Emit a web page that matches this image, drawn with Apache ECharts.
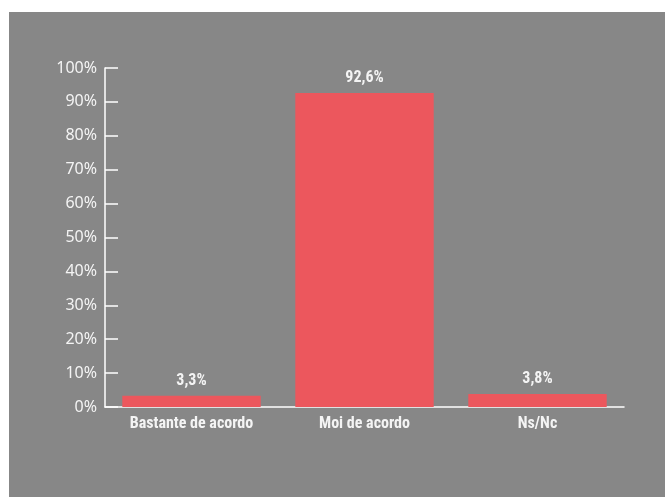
<!DOCTYPE html>
<html><head><meta charset="utf-8">
<script src="https://cdn.jsdelivr.net/npm/echarts@6/dist/echarts.min.js"></script>
<style>html,body{margin:0;padding:0;background:#fff;width:665px;height:497px;overflow:hidden}
#c{position:absolute;left:9px;top:12px;width:656px;height:485px;background:#878787}</style>
</head><body><div id="c"></div>
<script>
const categories = ["Bastante de acordo", "Moi de acordo", "Ns/Nc"];
const values = [3.3, 92.6, 3.8];
const yTicks = [0, 10, 20, 30, 40, 50, 60, 70, 80, 90, 100];

const chart = echarts.init(document.getElementById('c'));
const condensed = "'Liberation Sans Narrow', 'Roboto Condensed', 'DejaVu Sans Condensed', sans-serif";
chart.setOption({
  backgroundColor: '#878787',
  animation: false,
  grid: {left: 96, right: 41, top: 56, bottom: 90},
  xAxis: {
    type: 'category', data: categories,
    axisLine: {lineStyle: {color: '#ffffff', width: 1.5}},
    axisTick: {inside: true, length: 8, lineStyle: {color: '#ffffff', width: 1.5}},
    axisLabel: {color: '#f4f4f4', fontFamily: condensed, fontWeight: 'bold', fontSize: 16, margin: 9}
  },
  yAxis: {
    type: 'value', min: yTicks[0], max: yTicks[yTicks.length-1], interval: 10,
    axisLine: {show: true, lineStyle: {color: '#ffffff', width: 1.5}},
    axisTick: {show: true, inside: true, length: 13, lineStyle: {color: '#ffffff', width: 1.5}},
    splitLine: {show: false},
    axisLabel: {color: '#f4f4f4', fontFamily: "'Noto Sans', 'Open Sans', sans-serif", fontSize: 16, margin: 8, formatter: v => v + '%'}
  },
  series: [{
    type: 'bar', data: values, barCategoryGap: '20%',
    itemStyle: {color: '#EC575D'},
    label: {show: true, position: 'top', distance: 7, color: '#f4f4f4', fontFamily: condensed, fontWeight: 'bold', fontSize: 16,
      formatter: p => String(p.value).replace('.', ',') + '%'}
  }]
});
</script></body></html>
